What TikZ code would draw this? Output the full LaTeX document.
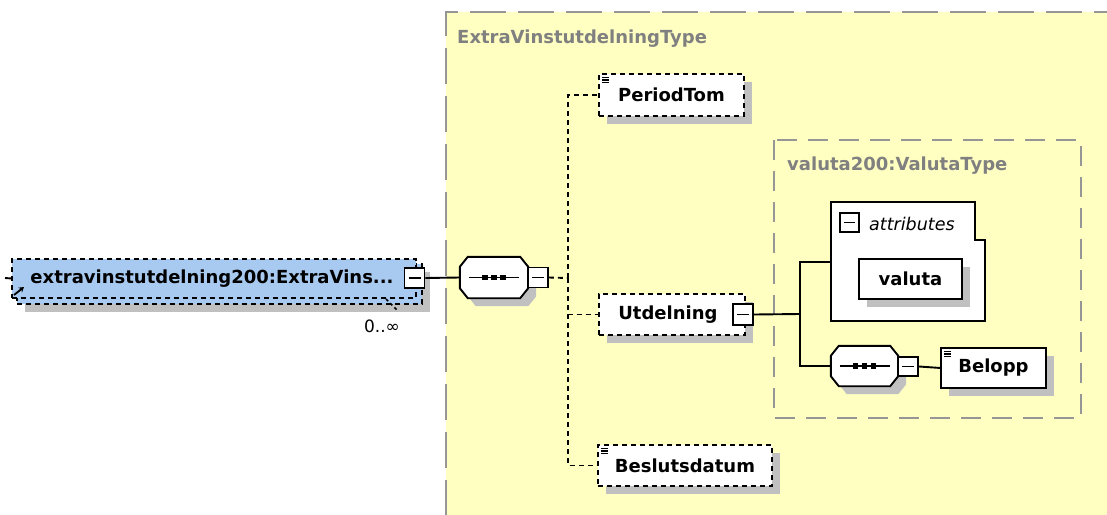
\documentclass[tikz,border=0pt]{standalone}
\usepackage{fontspec}
\setmainfont{DejaVu Sans}
\usetikzlibrary{shadows,calc,arrows.meta}
\definecolor{yel}{RGB}{255,255,194}
\definecolor{bluef}{RGB}{168,202,240}
\definecolor{bordergrey}{RGB}{150,150,150}
\definecolor{titlegrey}{RGB}{128,128,128}
\definecolor{shad}{RGB}{192,192,192}
\newcommand\octagonshape[1]{%
  \fill[shad,transform canvas={shift={(8pt,-8pt)}}] ([xshift=8pt]#1.north west) -- ([xshift=-8pt]#1.north east) -- ([yshift=-10pt]#1.north east) -- ([yshift=10pt]#1.south east) -- ([xshift=-8pt]#1.south east) -- ([xshift=8pt]#1.south west) -- ([yshift=10pt]#1.south west) -- ([yshift=-10pt]#1.north west) -- cycle;
  \draw[lw,fill=white] ([xshift=8pt]#1.north west) -- ([xshift=-8pt]#1.north east) -- ([yshift=-10pt]#1.north east) -- ([yshift=10pt]#1.south east) -- ([xshift=-8pt]#1.south east) -- ([xshift=8pt]#1.south west) -- ([yshift=10pt]#1.south west) -- ([yshift=-10pt]#1.north west) -- cycle;
  \draw[lw] ([xshift=-25pt]#1.center) -- ([xshift=25pt]#1.center);
  \foreach \d in {-9,0,9} \fill ([xshift=\d pt]#1.center) +(-2.8pt,-2.8pt) rectangle +(2.8pt,2.8pt);
}
\begin{document}
\begin{tikzpicture}[x=1pt,y=-1pt,
  lw/.style={line width=1.9pt},
  withshadow/.style={general shadow={fill=shad,shadow xshift=8pt,shadow yshift=-8pt}},
  lbl/.style={font=\bfseries\fontsize{18}{21}\selectfont},
  elembox/.style={draw,lw,fill=white,lbl,inner sep=0pt,anchor=north west},
  optional/.style={dash pattern=on 5pt off 4pt},
  simpleicon/.style={path picture={
      \foreach \k in {3.5,6,8.5}
        \draw[solid,line width=1.3pt] ([xshift=3pt,yshift=-\k pt]path picture bounding box.north west) -- ++(7pt,0pt);}},
  btn/.style={draw,lw,solid,fill=white,inner sep=0pt,minimum width=20pt,minimum height=20pt,
    path picture={\draw[line width=1.6pt] ([xshift=4pt]path picture bounding box.west) -- ([xshift=-4pt]path picture bounding box.east);}},
  conn/.style={lw},
  dconn/.style={lw,dash pattern=on 5pt off 4pt},
  title/.style={font=\bfseries\fontsize{18}{21}\selectfont,text=titlegrey,anchor=base west,inner sep=0pt},
  grp/.style={draw=bordergrey,line width=2.2pt}
]
\useasboundingbox (0,0) rectangle (1107,514);
\clip (0,0) rectangle (1107,514);

% outer complex type area
\fill[yel] (446,12) rectangle (1130,540);
\draw[grp,dash pattern=on 36pt off 12pt] (1130,12) -- (446,12) -- (446,540);
\node[title] (tExtra) at (457,43) {ExtraVinstutdelningType};

% inner valuta type area
\draw[grp,dash pattern=on 20pt off 11pt] (774,140) rectangle (1081,418);
\node[title] (tValuta) at (787,170) {valuta200:ValutaType};

% main element (stacked, 0..inf)
\node[draw,lw,optional,fill=bluef,withshadow,inner sep=0pt,anchor=north west,minimum width=405pt,minimum height=40pt] (mainback) at (16,263) {};
\node[draw,lw,optional,fill=bluef,lbl,inner sep=0pt,anchor=north west,minimum width=404pt,minimum height=39pt] (main) at (11,258) {extravinstutdelning200:ExtraVins...\hspace*{4pt}};
\draw[lw] (5,278) -- (main.west);
\draw[-{Stealth[length=5pt,width=6pt]},line width=1.8pt] (14,295) -- (24,287);
\node[btn,minimum height=20pt] (mainbtn) at (414.5,278) {};
\draw[line width=1.5pt,dash pattern=on 3pt off 3pt] (386,299) -- (398,311);
\node[font=\fontsize{17}{20}\selectfont,inner sep=0pt] (mult) at (382,326) {0..∞};

% sequence 1
\node[minimum width=68pt,minimum height=41pt,inner sep=0pt] (seq1) at (494,277.5) {};
\octagonshape{seq1}
\node[btn] (seq1btn) at (538,277.5) {};
\draw[conn] (mainbtn.east) -- (seq1.west);

% children
\node[elembox,optional,withshadow,simpleicon,minimum width=145pt,minimum height=42pt] (period) at (598,73) {PeriodTom};
\node[elembox,optional,withshadow,minimum width=146pt,minimum height=41pt] (utd) at (598,293) {\hspace*{-8pt}Utdelning};
\node[btn,minimum height=21pt] (utdbtn) at (743,314.5) {};
\node[elembox,optional,withshadow,simpleicon,minimum width=174pt,minimum height=41pt] (besl) at (597,444) {Beslutsdatum};

\coordinate (j1) at (568,278);
\draw[dconn] (seq1btn.east) -- (j1);
\draw[dconn] (j1) |- (period.west);
\draw[dconn] (j1) |- (utd.west);
\draw[dconn] (j1) |- (besl.west);

% attributes
\node[minimum width=154pt,minimum height=119pt,inner sep=0pt,anchor=north west] (attrs) at (831,202) {};
\draw[lw,fill=white] (attrs.north west) -- ([xshift=-10pt]attrs.north east) -- ([xshift=-10pt,yshift=-38pt]attrs.north east) -- ([yshift=-38pt]attrs.north east) -- (attrs.south east) -- (attrs.south west) -- cycle;
\node[btn,minimum width=19pt,minimum height=19pt] (attrbtn) at (849.5,222.5) {};
\node[anchor=base west,inner sep=0pt,font=\itshape\fontsize{17.5}{20}\selectfont] (attrlbl) at (869,230) {attributes};
\node[elembox,withshadow,minimum width=103pt,minimum height=40pt] (valuta) at (858,258) {valuta};

% sequence 2
\node[minimum width=67pt,minimum height=40pt,inner sep=0pt] (seq2) at (864.5,366) {};
\octagonshape{seq2}
\node[btn,minimum width=20pt,minimum height=19pt] (seq2btn) at (908,366.5) {};
\node[elembox,withshadow,simpleicon,minimum width=105pt,minimum height=40pt] (belopp) at (940,347) {Belopp};

\coordinate (j2) at (800,314);
\draw[conn] (utdbtn.east) -- (j2);
\draw[conn] (j2) |- (attrs.west);
\draw[conn] (j2) |- (seq2.west);
\draw[conn] (seq2btn.east) -- (belopp.west);
\end{tikzpicture}
\end{document}
